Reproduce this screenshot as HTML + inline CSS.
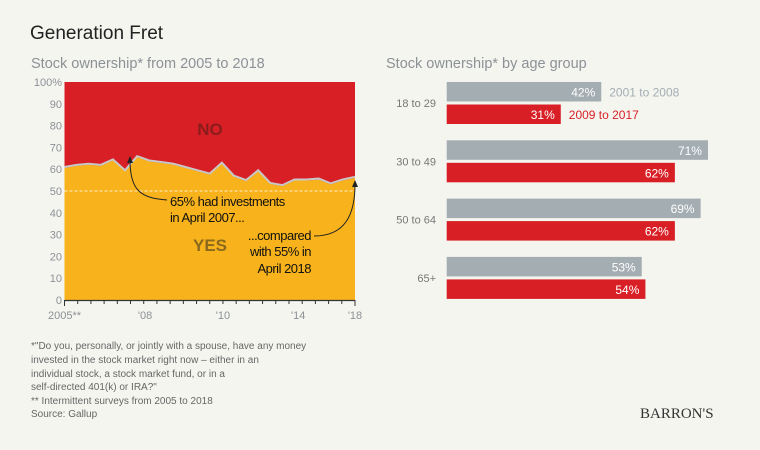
<!DOCTYPE html>
<html><head><meta charset="utf-8"><style>
body{margin:0;background:#f5f5f0;}
svg{display:block;font-family:"Liberation Sans",sans-serif;}
</style></head><body>
<svg id="chart" width="760" height="450" viewBox="0 0 760 450">
<rect width="760" height="450" fill="#f5f5f0"/>
<text x="30" y="39" font-size="19" fill="#222">Generation Fret</text>
<text x="31" y="68" font-size="14.5" fill="#8c9196">Stock ownership* from 2005 to 2018</text>
<text x="386" y="68" font-size="14.5" fill="#8c9196">Stock ownership* by age group</text>
<g id="area"></g>
<g id="bars"></g>
<g font-size="10" fill="#666">
<text x="31" y="349">*"Do you, personally, or jointly with a spouse, have any money</text>
<text x="31" y="363">invested in the stock market right now – either in an</text>
<text x="31" y="377">individual stock, a stock market fund, or in a</text>
<text x="31" y="390">self-directed 401(k) or IRA?"</text>
<text x="31" y="404">** Intermittent surveys from 2005 to 2018</text>
<text x="31" y="417">Source: Gallup</text>
</g>
<text x="640" y="418" font-family="Liberation Serif,serif" font-size="15" fill="#333">BARRON'S</text>
</svg>
<script>
const yesValues=[61,62,62.5,62,64.5,59.5,66,64,63.3,62.5,61,59.5,58,63,57,55,59.5,53.7,52.7,55.3,55.3,55.7,53.5,55.3,56.5];
const tickLabels=["2005**","'08","'10","'14","'18"];
const tickIdx=[0,6.1,12,17.7,22];
const yTicks=[0,10,20,30,40,50,60,70,80,90,100];
const ageGroups=["18 to 29","30 to 49","50 to 64","65+"];
const series1=[42,71,69,53];
const series2=[31,62,62,54];
const NS="http://www.w3.org/2000/svg";
function mk(p,t,a,txt){const e=document.createElementNS(NS,t);for(const k in a)e.setAttribute(k,a[k]);if(txt!==undefined)e.textContent=txt;p.appendChild(e);return e;}
// area chart
const A=document.getElementById('area');
const X0=64.5,X1=355,Y0=300,Y1=82;
const n=yesValues.length;
const xs=i=>X0+(X1-X0)*i/(n-1);
const ys=v=>Y0-(Y0-Y1)*v/100;
const xt=i=>X0+(X1-X0)*i/22;
let r=mk(A,'rect',{x:X0,y:Y1,width:X1-X0,height:Y0-Y1,fill:'#d81f26'});

let d='M'+X0+','+Y0;yesValues.forEach((v,i)=>d+=' L'+xs(i)+','+(ys(v)+1));d+=' L'+X1+','+Y0+'Z';
let p=mk(A,'path',{d:d,fill:'#f8b21c'});

let l='';yesValues.forEach((v,i)=>l+=(i?' L':'M')+xs(i)+','+ys(v));
let ln=mk(A,'path',{d:l,fill:'none',stroke:'#c8c8c8','stroke-width':2});

let fl=mk(A,'line',{x1:X0,x2:X1,y1:ys(50),y2:ys(50),stroke:'#fff','stroke-dasharray':'3,2','stroke-width':0.8});

yTicks.forEach(t=>{const e=mk(A,'text',{x:62,y:ys(t)+4,'text-anchor':'end','font-size':11,fill:'#8c9196'},t===100?'100%':t);
});
let ax=mk(A,'line',{x1:X0,x2:X1,y1:Y0+0.5,y2:Y0+0.5,stroke:'#333','stroke-width':1.2});

for(let i=0;i<=22;i++){const t=mk(A,'line',{x1:xt(i),x2:xt(i),y1:Y0,y2:Y0+(i===0||i===22?6:4),stroke:'#333'});
}
tickLabels.forEach((s,k)=>{const e=mk(A,'text',{x:xt(tickIdx[k]),y:319,'text-anchor':'middle','font-size':11,fill:'#8c9196'},s);
});
let no=mk(A,'text',{x:210,y:135,'text-anchor':'middle','font-size':17,'font-weight':'bold',fill:'#8a1c1c'},'NO');

let yes=mk(A,'text',{x:210,y:251,'text-anchor':'middle','font-size':17,'font-weight':'bold',fill:'#8a6a1c'},'YES');

const ann=[["65% had investments",170,206,'start'],["in April 2007...",170,222,'start'],["...compared",311,240,'end'],["with 55% in",311,256,'end'],["April 2018",311,273,'end']];
ann.forEach(a=>{const e=mk(A,'text',{x:a[1],y:a[2],'text-anchor':a[3],'font-size':13,fill:'#111',stroke:'#f8b21c','stroke-width':3,'paint-order':'stroke','letter-spacing':'-0.5'},a[0]);
});
let a1=mk(A,'path',{d:'M167,200 C140,198 130,190 130,160',fill:'none',stroke:'#222','stroke-width':1});

mk(A,'path',{d:'M127,163 L130,156 L133,163Z',fill:'#222'});
let a2=mk(A,'path',{d:'M314,236 C345,236 355,215 355,184',fill:'none',stroke:'#222','stroke-width':1});

mk(A,'path',{d:'M352,187 L355,180 L358,187Z',fill:'#222'});
// bars
const B=document.getElementById('bars');
const BX=446.7,PX=3.68,G0=82,GS=58.3,BH=19.5;
ageGroups.forEach((g,i)=>{
 const gy=G0+GS*i;
 const lb=mk(B,'text',{x:436,y:gy+25,'text-anchor':'end','font-size':11,fill:'#777'},g);
 
 const w1=series1[i]*PX,w2=series2[i]*PX;
 const b1=mk(B,'rect',{x:BX,y:gy,width:w1,height:BH,fill:'#a3adb2'});
 
 const b2=mk(B,'rect',{x:BX,y:gy+22.5,width:w2,height:BH,fill:'#d81f26'});
 
 const t1=mk(B,'text',{x:BX+w1-6,y:gy+14.5,'text-anchor':'end','font-size':12,fill:'#fff'},series1[i]+'%');
 
 const t2=mk(B,'text',{x:BX+w2-6,y:gy+37,'text-anchor':'end','font-size':12,fill:'#fff'},series2[i]+'%');
 
 if(i===0){
  const l1=mk(B,'text',{x:BX+w1+8,y:gy+14.5,'font-size':12,fill:'#a3adb2'},'2001 to 2008');
  
  const l2=mk(B,'text',{x:BX+w2+8,y:gy+37,'font-size':12,fill:'#d81f26'},'2009 to 2017');
  
 }
});
</script>
</body></html>
